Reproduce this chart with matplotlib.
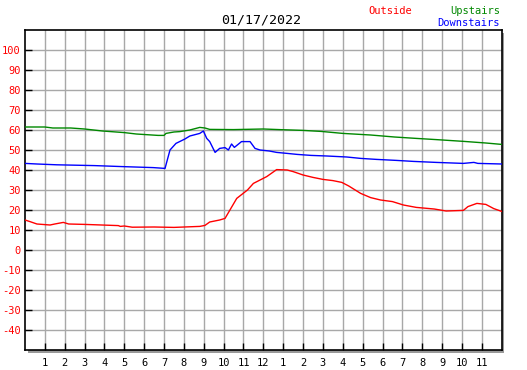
import matplotlib
matplotlib.use("Agg")
import matplotlib.pyplot as plt
from matplotlib.patches import Rectangle

title = "01/17/2022"
hour_labels = ["1", "2", "3", "4", "5", "6", "7", "8", "9", "10", "11", "12",
               "1", "2", "3", "4", "5", "6", "7", "8", "9", "10", "11"]
y_ticks = [-40, -30, -20, -10, 0, 10, 20, 30, 40, 50, 60, 70, 80, 90, 100]

upstairs_h = [0, 1.0, 1.4, 2.3, 3.0, 3.9, 5.0, 5.6, 6.7, 7.0, 7.1, 7.5, 7.8, 8.3, 8.8,
              9.06, 9.3, 10.5, 12.0, 12.8, 14.0, 14.9, 16.0, 17.4, 18.6, 19.7,
              20.7, 22.1, 23.2, 24.0]
upstairs_v = [61.5, 61.5, 61.0, 61.0, 60.5, 59.5, 58.7, 58.0, 57.3, 57.3, 58.3, 59.0,
              59.2, 60.0, 61.3, 61.0, 60.3, 60.2, 60.5, 60.2, 59.8, 59.3, 58.3, 57.5,
              56.5, 55.8, 55.2, 54.3, 53.5, 52.8]

downstairs_h = [0, 0.6, 1.6, 3.5, 4.9, 6.45, 7.05, 7.3, 7.6, 8.05, 8.3, 8.8, 8.98,
                9.15, 9.3, 9.57, 9.8, 10.07, 10.24, 10.4, 10.54, 10.69, 10.9, 11.33,
                11.58, 11.83, 12.3, 12.67, 13.2, 13.7, 14.4, 15.2, 16.2, 16.9, 17.7,
                18.7, 19.55, 20.7, 22.07, 22.6, 22.8, 23.2, 24.0]
downstairs_v = [43.3, 43.0, 42.6, 42.2, 41.7, 41.2, 40.8, 50.0, 53.3, 55.5, 57.0,
                58.3, 59.5, 55.8, 54.2, 48.8, 50.8, 51.2, 50.0, 53.0, 51.3, 52.5,
                54.2, 54.2, 50.8, 50.0, 49.5, 48.8, 48.3, 47.8, 47.3, 47.0, 46.5,
                45.8, 45.3, 44.8, 44.3, 43.8, 43.3, 43.8, 43.3, 43.2, 43.0]

outside_h = [0, 0.25, 0.6, 1.26, 1.5, 1.93, 2.2, 3.0, 4.7, 4.8, 5.0, 5.4, 6.5, 7.5,
             8.8, 9.06, 9.3, 9.8, 10.07, 10.66, 11.2, 11.5, 12.17, 12.67, 13.2, 13.5,
             14.0, 14.5, 15.0, 15.5, 15.95, 16.3, 16.9, 17.4, 17.9, 18.5, 19.05,
             19.7, 20.6, 21.2, 22.07, 22.3, 22.75, 23.2, 23.6, 24.0]
outside_v = [15.0, 14.2, 13.0, 12.5, 13.0, 13.8, 13.0, 12.8, 12.2, 11.8, 12.0, 11.4,
             11.5, 11.3, 11.8, 12.3, 14.0, 15.0, 15.8, 25.8, 30.0, 33.3, 36.7, 40.2,
             40.0, 39.2, 37.5, 36.3, 35.3, 34.7, 33.8, 32.0, 28.3, 26.2, 25.0, 24.2,
             22.5, 21.3, 20.5, 19.5, 19.8, 21.7, 23.3, 22.8, 20.7, 19.3]

W, H = 527, 370
fig = plt.figure(figsize=(W / 100, H / 100), dpi=100)
fig.patch.set_facecolor("white")

x0, x1, ytop, ybot = 25, 501.7, 30, 350
ax = fig.add_axes([x0 / W, (H - ybot) / H, (x1 - x0) / W, (ybot - ytop) / H])
ax.set_xlim(0, 24)
ax.set_ylim(-50, 110)

# drop shadow
shadow = Rectangle(((x0 + 2.5) / W, (H - ybot - 2.5) / H), (x1 - x0) / W, (ybot - ytop) / H,
                   transform=fig.transFigure, facecolor="#999999", edgecolor="none",
                   zorder=-1)
fig.patches.append(shadow)
ax.set_facecolor("white")

for h in range(1, 24):
    ax.axvline(h, color="#a8a8a8", lw=1, zorder=1)
for v in range(-40, 110, 10):
    ax.axhline(v, color="#a8a8a8", lw=1, zorder=1)

ax.plot(upstairs_h, upstairs_v, color="#008800", lw=1, zorder=3)
ax.plot(downstairs_h, downstairs_v, color="#0000ff", lw=1, zorder=3)
ax.plot(outside_h, outside_v, color="#ff0000", lw=1, zorder=3)

mono = "DejaVu Sans Mono"
ax.set_yticks(y_ticks)
ax.set_yticklabels([str(v) for v in y_ticks], color="red", fontsize=7.5, family=mono)
ax.set_xticks(range(1, 24))
ax.set_xticklabels(hour_labels, color="black", fontsize=7.5, family=mono)
ax.tick_params(axis="y", direction="in", length=5, width=1, color="black", pad=3)
ax.tick_params(axis="x", direction="in", length=5, width=1, color="black", pad=6)
for s in ax.spines.values():
    s.set_color("black")
    s.set_linewidth(1.2)

fig.text(261 / W, 1 - 20 / H, title, ha="center", va="center", fontsize=9.5,
         family=mono, color="black")
fig.text(390 / W, 1 - 11 / H, "Outside", ha="center", va="center", fontsize=7.5,
         family=mono, color="red")
fig.text(500 / W, 1 - 11 / H, "Upstairs", ha="right", va="center", fontsize=7.5,
         family=mono, color="#008800")
fig.text(500 / W, 1 - 23 / H, "Downstairs", ha="right", va="center", fontsize=7.5,
         family=mono, color="#0000ff")

fig.savefig("out.png", dpi=100, facecolor="white")
